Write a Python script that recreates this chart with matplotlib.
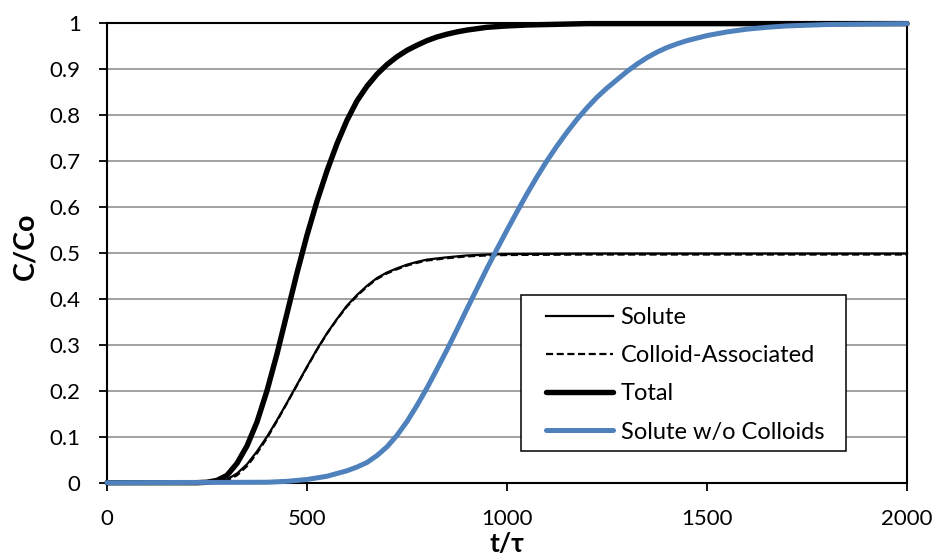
import matplotlib
matplotlib.use("Agg")
import matplotlib.pyplot as plt
from matplotlib.patches import Rectangle

plt.rcParams['font.family'] = ['Lato', 'DejaVu Sans']

# values
t_total = [0, 225, 250, 275, 300, 325, 350, 375, 400, 425, 450, 475, 500, 525,
           550, 575, 600, 625, 650, 675, 700, 725, 750, 775, 800, 825, 850,
           875, 900, 950, 1000, 1050, 1100, 1200, 2000]
c_total = [0, 0, 0.001, 0.005, 0.016, 0.042, 0.08, 0.132, 0.2, 0.28, 0.368,
           0.456, 0.538, 0.612, 0.678, 0.737, 0.788, 0.83, 0.862, 0.888, 0.909,
           0.926, 0.94, 0.951, 0.961, 0.969, 0.975, 0.98, 0.984, 0.99, 0.993,
           0.995, 0.996, 0.998, 0.998]

t_half = [0, 225, 250, 275, 300, 325, 350, 375, 400, 425, 450, 475, 500, 525,
          550, 575, 600, 625, 650, 675, 700, 725, 750, 775, 800, 850, 900, 950,
          1000, 1200, 2000]
c_solute = [0, 0, 0.001, 0.003, 0.007, 0.02, 0.04, 0.068, 0.1, 0.136, 0.174,
            0.213, 0.252, 0.29, 0.325, 0.356, 0.385, 0.408, 0.428, 0.445, 0.457,
            0.466, 0.474, 0.48, 0.485, 0.49, 0.494, 0.496, 0.497, 0.498, 0.498]
c_colloid = [0, 0, 0.0, 0.002, 0.005, 0.016, 0.036, 0.064, 0.097, 0.134, 0.173,
             0.212, 0.251, 0.289, 0.324, 0.355, 0.383, 0.406, 0.426, 0.443, 0.455,
             0.464, 0.472, 0.478, 0.483, 0.488, 0.492, 0.494, 0.495, 0.496, 0.496]

t_nocol = [0, 400, 450, 500, 550, 600, 625, 650, 675, 700, 725, 750, 775, 800,
           825, 850, 875, 900, 925, 950, 975, 1000, 1025, 1050, 1075, 1100,
           1125, 1150, 1175, 1200, 1225, 1250, 1275, 1300, 1325, 1350, 1375,
           1400, 1425, 1450, 1500, 1550, 1600, 1650, 1700, 1800, 1900, 2000]
c_nocol = [0, 0.001, 0.003, 0.007, 0.014, 0.026, 0.034, 0.044, 0.059, 0.078,
           0.103, 0.133, 0.168, 0.206, 0.247, 0.289, 0.333, 0.378, 0.422, 0.466,
           0.508, 0.549, 0.589, 0.628, 0.665, 0.7, 0.732, 0.762, 0.79, 0.815,
           0.838, 0.858, 0.876, 0.894, 0.91, 0.924, 0.936, 0.946, 0.954, 0.961,
           0.972, 0.98, 0.986, 0.99, 0.993, 0.996, 0.997, 0.998]

x_ticks = [0, 500, 1000, 1500, 2000]
y_ticks = [0, 0.1, 0.2, 0.3, 0.4, 0.5, 0.6, 0.7, 0.8, 0.9, 1]
y_labels = ['0', '0.1', '0.2', '0.3', '0.4', '0.5', '0.6', '0.7', '0.8', '0.9', '1']

fig = plt.figure(figsize=(9.35, 5.57), dpi=100)
ax = fig.add_axes([107/935, 1 - 482.7/557, 800/935, 460/557])

for y in y_ticks[1:-1]:
    ax.axhline(y, color='#888888', lw=1.1, zorder=0)

ax.plot(t_half, c_solute, color='black', lw=1.6, label='Solute', clip_on=False)
ax.plot(t_half, c_colloid, color='black', lw=1.6, ls=(0, (3.2, 1.6)),
        label='Colloid-Associated', clip_on=False)
ax.plot(t_total, c_total, color='black', lw=3.9, label='Total',
        solid_capstyle='round', solid_joinstyle='round', clip_on=False)
ax.plot(t_nocol, c_nocol, color='#4f81bd', lw=3.6, label='Solute w/o Colloids',
        solid_capstyle='round', solid_joinstyle='round', clip_on=False)

ax.set_xlim(0, 2000)
ax.set_ylim(0, 1)
ax.set_xticks(x_ticks)
ax.set_yticks(y_ticks)
ax.set_yticklabels(y_labels)
ax.tick_params(direction='out', length=6, width=1.3, labelsize=16, pad=13)
for s in ax.spines.values():
    s.set_linewidth(1.5)
    s.set_zorder(1)

fig.text(33/935, 1 - 246/557, 'C/Co', rotation=90, rotation_mode='anchor',
         ha='center', va='baseline', fontsize=20.5, fontweight='bold')
fig.text(507/935, 1 - 552/557, 't/τ', ha='center', va='baseline',
         fontsize=19, fontweight='bold')

# legend box drawn separately so the handles can sit further in
ax.add_patch(Rectangle((0.5175, 0.069), 0.4065, 0.339, transform=ax.transAxes,
                       facecolor='white', edgecolor='black', lw=1.1, zorder=4.5))
leg = ax.legend(loc='upper left', bbox_to_anchor=(0.549, 0.382), frameon=False,
                fontsize=17, handlelength=2.85, handletextpad=0.3, borderpad=0,
                labelspacing=0.73, borderaxespad=0)
leg.set_zorder(5)

fig.savefig('out.png', dpi=100)
